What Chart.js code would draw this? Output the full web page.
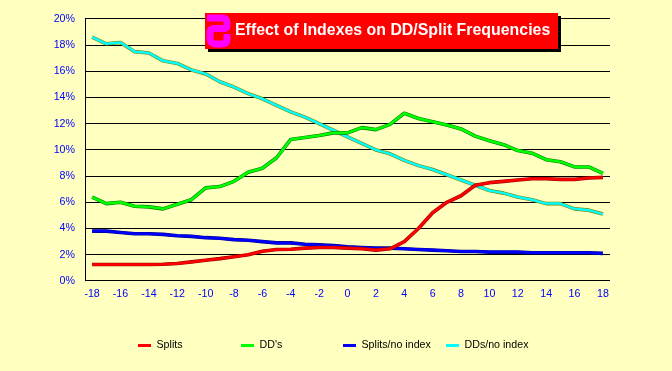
<!DOCTYPE html>
<html>
<head>
<meta charset="utf-8">
<style>
html,body{margin:0;padding:0;background:#ffffc0;}
#wrap{position:relative;width:672px;height:371px;}
canvas{display:block;}
</style>
<script src="https://cdn.jsdelivr.net/npm/chart.js@4"></script>
</head>
<body>
<div id="wrap"><canvas id="c" width="672" height="371"></canvas></div>
<script>
const categories = [-18,-17,-16,-15,-14,-13,-12,-11,-10,-9,-8,-7,-6,-5,-4,-3,-2,-1,0,1,2,3,4,5,6,7,8,9,10,11,12,13,14,15,16,17,18];
const splits = [1.25,1.25,1.25,1.25,1.25,1.27,1.33,1.45,1.58,1.7,1.85,2.0,2.27,2.4,2.42,2.5,2.55,2.55,2.5,2.45,2.35,2.45,3.0,4.0,5.2,6.0,6.5,7.3,7.5,7.6,7.7,7.8,7.8,7.75,7.75,7.85,7.9];
const dds = [6.4,5.9,6.0,5.7,5.65,5.5,5.85,6.2,7.1,7.2,7.6,8.3,8.6,9.4,10.8,10.95,11.1,11.3,11.3,11.7,11.55,11.95,12.8,12.4,12.15,11.9,11.6,11.05,10.7,10.4,9.95,9.75,9.25,9.1,8.7,8.7,8.2];
const splitsNoIndex = [3.8,3.8,3.7,3.6,3.6,3.55,3.45,3.4,3.3,3.25,3.15,3.1,3.0,2.9,2.9,2.8,2.75,2.7,2.6,2.55,2.5,2.5,2.45,2.4,2.35,2.3,2.25,2.25,2.2,2.2,2.2,2.15,2.15,2.15,2.15,2.15,2.1];
const ddsNoIndex = [18.6,18.1,18.2,17.5,17.4,16.8,16.6,16.1,15.8,15.2,14.8,14.3,13.9,13.4,12.9,12.5,12.0,11.5,11.0,10.5,10.0,9.7,9.2,8.8,8.5,8.1,7.7,7.3,6.9,6.7,6.4,6.2,5.9,5.9,5.5,5.4,5.1];
const seriesNames = ["Splits","DD's","Splits/no index","DDs/no index"];
const titleText = "Effect of Indexes on DD/Split Frequencies";
const FONT = "'Liberation Sans', Arial, sans-serif";

const edgePlugin = {
  id: 'edge',
  beforeDatasetDraw(chart, args) {
    const meta = chart.getDatasetMeta(args.index);
    const ds = chart.data.datasets[args.index];
    const ctx = chart.ctx;
    ctx.save();
    ctx.strokeStyle = ds.edgeColor;
    ctx.lineWidth = 3.6;
    ctx.lineJoin = 'round';
    ctx.beginPath();
    meta.dataset.path(ctx);
    ctx.stroke();
    ctx.restore();
  }
};

const overlayPlugin = {
  id: 'overlay',
  afterDraw(chart) {
    const ctx = chart.ctx;
    ctx.save();
    // legend
    const xs = [138,241,343,446];
    ctx.font = "10.67px " + FONT;
    ctx.textBaseline = 'middle';
    ctx.textAlign = 'left';
    seriesNames.forEach((name,i) => {
      const ds = chart.data.datasets.find(d => d.label === name);
      ctx.fillStyle = ds.borderColor;
      ctx.fillRect(xs[i], 344, 13, 3);
      ctx.fillStyle = '#000';
      ctx.fillText(name, xs[i] + 18.5, 345.5);
    });
    // title box
    ctx.fillStyle = '#000';
    ctx.fillRect(208, 16, 353, 36);
    ctx.fillStyle = '#ff0000';
    ctx.fillRect(205, 13, 353, 36);
    // magenta emblem
    ctx.strokeStyle = '#ff00ff';
    ctx.lineWidth = 7;
    ctx.lineJoin = 'round';
    ctx.lineCap = 'butt';
    ctx.beginPath();
    ctx.moveTo(207, 18);
    ctx.lineTo(222, 18);
    ctx.quadraticCurveTo(227, 18, 227, 23);
    ctx.lineTo(227, 26);
    ctx.quadraticCurveTo(227, 28.5, 223, 28.5);
    ctx.lineTo(214, 28.5);
    ctx.quadraticCurveTo(210, 28.5, 210, 33);
    ctx.lineTo(210, 39);
    ctx.quadraticCurveTo(210.5, 44, 216, 44);
    ctx.lineTo(222, 44);
    ctx.quadraticCurveTo(227, 44, 227, 39);
    ctx.lineTo(227, 34);
    ctx.stroke();
    // title text
    ctx.fillStyle = '#fff';
    ctx.font = "bold 15.9px " + FONT;
    ctx.textBaseline = 'middle';
    ctx.fillText(titleText, 235, 30.5);
    ctx.restore();
  }
};

new Chart(document.getElementById('c'), {
  type: 'line',
  plugins: [edgePlugin, overlayPlugin],
  data: {
    labels: categories,
    datasets: [
      {label:seriesNames[0], data:splits, borderColor:'#ff0000', edgeColor:'#a00000', order:0},
      {label:seriesNames[1], data:dds, borderColor:'#00ff00', edgeColor:'#008000', order:1},
      {label:seriesNames[2], data:splitsNoIndex, borderColor:'#0000ff', edgeColor:'#000090', order:2},
      {label:seriesNames[3], data:ddsNoIndex, borderColor:'#00ffff', edgeColor:'#808000', order:3}
    ]
  },
  options: {
    responsive: false,
    animation: false,
    layout: {padding: {left:0, right:62, top:18.9, bottom:0}},
    elements: {
      point: {radius:0},
      line: {borderWidth:2.5, tension:0, borderCapStyle:'butt', borderJoinStyle:'round'}
    },
    plugins: {legend:{display:false}, title:{display:false}, tooltip:{enabled:false}},
    scales: {
      x: {
        offset: true,
        grid: {display:false, drawTicks:false},
        border: {display:false},
        afterFit(s){ s.height = 90.1; },
        ticks: {
          autoSkip:false, maxRotation:0, padding:7,
          color:'#0000ff', font:{family:FONT, size:10.67},
          callback(v,i){ return i % 2 === 0 ? this.getLabelForValue(v) : ''; }
        }
      },
      y: {
        min:0, max:20,
        afterFit(s){ s.width = 85; },
        grid: {color:'#000', lineWidth:1, drawTicks:false},
        border: {display:true, color:'#000', width:1},
        ticks: {
          stepSize:2, padding:10,
          color:'#0000ff', font:{family:FONT, size:10.67},
          callback(v){ return v + '%'; }
        }
      }
    }
  }
});
</script>
</body>
</html>
